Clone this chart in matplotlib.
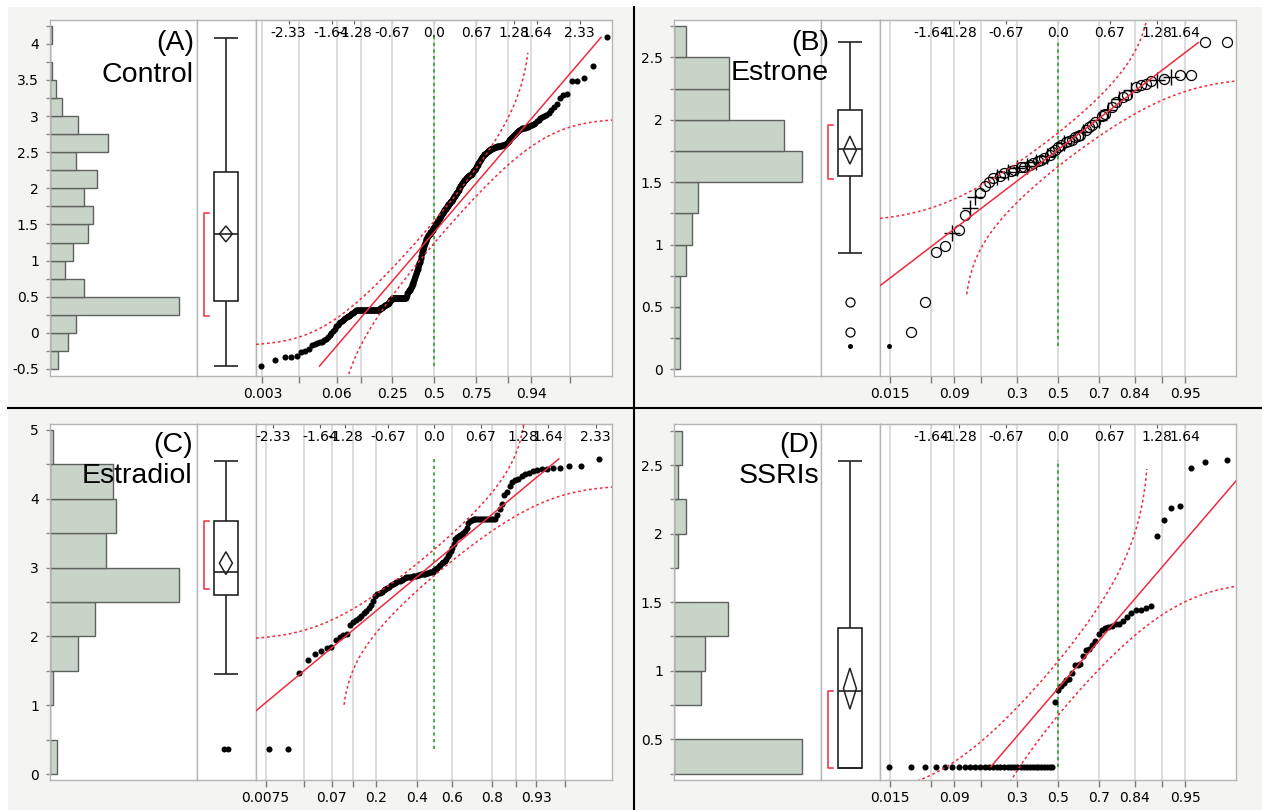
import numpy as np
import matplotlib
matplotlib.use("Agg")
import matplotlib.pyplot as plt
from matplotlib.patches import Rectangle, Polygon
from matplotlib.lines import Line2D
from matplotlib.transforms import blended_transform_factory
from statistics import NormalDist

# ---------------------------------------------------------------- data
panel_letters = ["(A)", "(B)", "(C)", "(D)"]
panel_names = ["Control", "Estrone", "Estradiol", "SSRIs"]

# histograms (bin start, bin width, counts)
hist_A_start, hist_A_width = -0.5, 0.25
hist_A_counts = [5, 12, 17, 84, 22, 10, 15, 25, 28, 22, 31, 17, 38, 18, 8, 4, 1, 0, 1]
hist_B_start, hist_B_width = 0.0, 0.25
hist_B_counts = [1, 1, 1, 2, 3, 4, 21, 18, 9, 9, 2]
hist_C_start, hist_C_width = 0.0, 0.5
hist_C_counts = [2, 0, 1, 8, 13, 37, 16, 19, 18, 1]
hist_D_start, hist_D_width = 0.25, 0.25
hist_D_counts = [33, 0, 7, 8, 14, 0, 1, 3, 1, 2]

# y axis tick labels of the histograms
yticks_A = [-0.5, 0, 0.5, 1, 1.5, 2, 2.5, 3, 3.5, 4]
yticks_B = [0, 0.5, 1, 1.5, 2, 2.5]
yticks_C = [0, 1, 2, 3, 4, 5]
yticks_D = [0.5, 1, 1.5, 2, 2.5]

# box plot summaries: whisker low, Q1, median, Q3, whisker high, mean, mean-diamond half height,
# shortest half (low, high)
box_A = dict(wlo=-0.46, q1=0.445, med=1.37, q3=2.225, whi=4.08, mean=1.37, mhalf=0.11, sh=(0.233, 1.663))
box_B = dict(wlo=0.93, q1=1.55, med=1.765, q3=2.08, whi=2.62, mean=1.757, mhalf=0.112, sh=(1.525, 1.96))
box_C = dict(wlo=1.46, q1=2.60, med=2.94, q3=3.68, whi=4.55, mean=3.065, mhalf=0.165, sh=(2.69, 3.68))
box_D = dict(wlo=0.293, q1=0.293, med=0.854, q3=1.313, whi=2.53, mean=0.87, mhalf=0.15, sh=(0.293, 0.854))
box_A_out, box_B_out, box_C_out, box_D_out = [], [0.54, 0.30, 0.19], [0.37, 0.37], []
box_B_out_marker = ["o", "o", "."]

# sorted samples shown in the normal quantile plots
qq_A = ([-0.46, -0.38, -0.34, -0.34, -0.32, -0.26, -0.25, -0.23, -0.17, -0.16,
         -0.14, -0.13, -0.12, -0.10, -0.08, -0.06, -0.03, 0.00, 0.03, 0.06,
         0.09, 0.11, 0.13, 0.15, 0.17, 0.18, 0.19, 0.20, 0.22, 0.23,
         0.24, 0.25, 0.26, 0.27, 0.28, 0.29, 0.30]
        + [0.31] * 31
        + [0.33, 0.34, 0.34, 0.35, 0.36, 0.36, 0.37, 0.37, 0.38, 0.38, 0.39, 0.39, 0.40, 0.40,
           0.41, 0.42, 0.43, 0.44, 0.45, 0.46, 0.47, 0.48]
        + [0.48] * 27
        + [0.50, 0.53, 0.55,
           0.56, 0.57, 0.58, 0.59, 0.60, 0.61, 0.62, 0.64,
           0.65, 0.67, 0.68, 0.70, 0.71, 0.73,
           0.75, 0.77, 0.79, 0.81, 0.83, 0.85, 0.87,
           0.89, 0.91, 0.93, 0.95, 0.97, 0.98, 1.00,
           1.03, 1.07, 1.10,
           1.12, 1.14, 1.16, 1.18, 1.20, 1.22,
           1.24, 1.25, 1.27, 1.28, 1.30, 1.31, 1.33,
           1.34, 1.35, 1.35, 1.36, 1.37, 1.38, 1.39, 1.39, 1.40, 1.41, 1.42,
           1.43, 1.44, 1.45, 1.46, 1.47, 1.48, 1.49, 1.50, 1.51, 1.52, 1.53, 1.54,
           1.55, 1.56, 1.57, 1.58, 1.59, 1.60, 1.61, 1.62, 1.63, 1.64, 1.65,
           1.66, 1.67, 1.68, 1.69, 1.70, 1.71, 1.71, 1.72, 1.73, 1.74, 1.75,
           1.76, 1.77, 1.78, 1.79, 1.79, 1.80, 1.81, 1.82, 1.82, 1.83, 1.84,
           1.85, 1.86, 1.87, 1.88, 1.89, 1.90, 1.91, 1.92, 1.93, 1.94, 1.95,
           1.96, 1.97, 1.98, 2.00, 2.01, 2.02, 2.03, 2.04, 2.05, 2.06, 2.07,
           2.08, 2.09, 2.10, 2.11, 2.12, 2.12, 2.13, 2.14, 2.15, 2.16,
           2.16, 2.17, 2.17, 2.18, 2.18, 2.19, 2.19, 2.20, 2.20, 2.21,
           2.22, 2.24, 2.25, 2.26, 2.27, 2.28, 2.29, 2.31, 2.32,
           2.33, 2.35, 2.36, 2.38, 2.39, 2.40, 2.41, 2.43, 2.44,
           2.45, 2.46, 2.47, 2.48, 2.48, 2.49, 2.50, 2.51,
           2.52, 2.52, 2.53, 2.53, 2.54, 2.54, 2.55, 2.56,
           2.56, 2.56, 2.57, 2.57, 2.57, 2.57, 2.58, 2.58, 2.58,
           2.59, 2.59, 2.59, 2.60, 2.60, 2.60, 2.60,
           2.61, 2.62, 2.63, 2.64, 2.66, 2.67,
           2.68, 2.70, 2.71, 2.73, 2.74,
           2.75, 2.77, 2.78, 2.80, 2.81, 2.82, 2.83,
           2.83, 2.84, 2.84, 2.85, 2.85,
           2.86, 2.87, 2.88, 2.89,
           2.91, 2.93, 2.95, 2.97,
           2.99, 3.00, 3.02, 3.04,
           3.08, 3.12, 3.17, 3.25, 3.29, 3.31, 3.49, 3.49, 3.53, 3.69, 4.09])

qq_B = [0.19, 0.30, 0.54, 0.94, 0.99, 1.09, 1.12, 1.24, 1.29, 1.38,
        1.41, 1.47, 1.50, 1.53, 1.54, 1.55, 1.57, 1.58, 1.59, 1.60,
        1.61, 1.62, 1.62, 1.63, 1.64, 1.65, 1.66, 1.67, 1.68, 1.69,
        1.71, 1.72, 1.74, 1.76, 1.78, 1.80, 1.81, 1.82, 1.83, 1.84,
        1.86, 1.87, 1.88, 1.90, 1.92, 1.94, 1.96, 1.98, 2.00, 2.03,
        2.05, 2.08, 2.10, 2.14, 2.17, 2.18, 2.20, 2.24, 2.26, 2.28,
        2.29, 2.31, 2.32, 2.33, 2.34, 2.36, 2.36, 2.62, 2.62]
qq_B_cross_ranks = [6, 9, 10, 15, 18, 21, 24, 27, 31, 37, 44, 49, 52, 55, 58, 63, 65]
qq_B_dot_ranks = [1]

qq_C = [0.37, 0.37, 1.47, 1.66, 1.74, 1.79, 1.83, 1.84, 1.95, 1.99,
        2.02, 2.04, 2.16, 2.21, 2.24, 2.27, 2.30, 2.34, 2.37, 2.42,
        2.46, 2.52, 2.58, 2.61, 2.63, 2.65, 2.67, 2.69, 2.71, 2.72,
        2.74, 2.76, 2.77, 2.79, 2.80, 2.81, 2.82, 2.84, 2.85, 2.86,
        2.86, 2.87, 2.87, 2.88, 2.88, 2.88, 2.89, 2.89, 2.90, 2.90,
        2.91, 2.91, 2.92, 2.92, 2.93, 2.93, 2.94,
        2.96, 2.98, 3.00, 3.02, 3.04, 3.06, 3.08, 3.10, 3.13, 3.17, 3.20, 3.24, 3.28,
        3.34, 3.41, 3.45, 3.46, 3.47, 3.49, 3.50, 3.53, 3.58, 3.65, 3.67, 3.69] \
    + [3.70] * 12 \
    + [3.77, 3.85, 3.92, 4.05, 4.10, 4.18, 4.24, 4.27, 4.29, 4.33, 4.36,
       4.38, 4.40, 4.42, 4.43, 4.44, 4.45, 4.45, 4.47, 4.48, 4.58]

qq_D = [0.30] * 33 + [0.77, 0.86, 0.89, 0.91, 0.93, 0.94, 0.98,
                      1.04, 1.04, 1.05, 1.11, 1.15, 1.16, 1.19, 1.22,
                      1.27, 1.30, 1.31, 1.32, 1.33, 1.34, 1.34, 1.36, 1.39, 1.42,
                      1.44, 1.44, 1.46, 1.47, 1.98, 2.10, 2.19, 2.20, 2.48, 2.52, 2.54]

# fitted normal line (mean, sd) and confidence band half-width (probability units)
fit_A, fit_B, fit_C, fit_D = (1.393, 1.01), (1.76, 0.474), (3.073, 0.838), (0.871, 0.658)
band_A, band_B, band_C, band_D = 0.06, 0.112, 0.09, 0.118

# normal quantile axes: top quantile labels, bottom probability grid
top_AC = ["-2.33", "-1.64", "-1.28", "-0.67", "0.0", "0.67", "1.28", "1.64", "2.33"]
top_BD = ["-1.64", "-1.28", "-0.67", "0.0", "0.67", "1.28", "1.64"]
prob_A = [0.003, 0.015, 0.06, 0.12, 0.25, 0.5, 0.75, 0.88, 0.94, 0.985]
prob_A_lab = ["0.003", "", "0.06", "", "0.25", "0.5", "0.75", "", "0.94", ""]
prob_BD = [0.015, 0.05, 0.09, 0.16, 0.3, 0.5, 0.7, 0.84, 0.91, 0.95]
prob_BD_lab = ["0.015", "", "0.09", "", "0.3", "0.5", "0.7", "0.84", "", "0.95"]
prob_C = [0.0075, 0.03, 0.07, 0.12, 0.2, 0.4, 0.6, 0.8, 0.88, 0.93, 0.97]
prob_C_lab = ["0.0075", "", "0.07", "", "0.2", "0.4", "0.6", "0.8", "", "0.93", ""]

# ---------------------------------------------------------------- layout / style
W, H = 1262, 810
ND = NormalDist()
plt.rcParams['font.family'] = ['DejaVu Sans']
TITLE_FONT = ['Liberation Sans', 'DejaVu Sans']
RED = '#ee2b3f'
GREEN = '#2aa02a'
SPINE = '#b5b5b5'
BAR_FC = '#c9d4c8'
BAR_EC = '#5e625e'

fig = plt.figure(figsize=(W / 100, H / 100), dpi=100)
fig.patch.set_facecolor('white')
fig.add_artist(Rectangle((8 / W, 0), 1 - 8 / W, 1 - 7 / H, transform=fig.transFigure,
                         facecolor='#f4f4f2', edgecolor='none', zorder=-10))
fig.add_artist(Line2D([633.5 / W] * 2, [0, 1 - 7 / H], transform=fig.transFigure,
                      color='black', lw=1.5, zorder=10))
fig.add_artist(Line2D([8 / W, 1], [1 - 408 / H] * 2, transform=fig.transFigure,
                      color='black', lw=1.5, zorder=10))


def ax_px(x0, x1, y0, y1):
    a = fig.add_axes([x0 / W, 1 - y1 / H, (x1 - x0) / W, (y1 - y0) / H])
    a.set_facecolor('white')
    for s in a.spines.values():
        s.set_color(SPINE)
        s.set_linewidth(1.0)
    return a


panels = [
    dict(x=(50, 197, 256, 612.3), y=(20, 376), ylim=(-0.597, 4.33), zl=2.85,
         hs=hist_A_start, hw=hist_A_width, hc=hist_A_counts, hx=96, yt=yticks_A, minor=0.25,
         box=box_A, bout=box_A_out, bmk=None, qq=qq_A, fit=fit_A, band=band_A,
         top=top_AC, prob=prob_A, plab=prob_A_lab,
         title_x=194, tb=(50, 82)),
    dict(x=(674, 821, 880, 1236), y=(20, 376), ylim=(-0.054, 2.80), zl=2.30,
         hs=hist_B_start, hw=hist_B_width, hc=hist_B_counts, hx=24.1, yt=yticks_B, minor=0.25,
         box=box_B, bout=box_B_out, bmk=box_B_out_marker, qq=qq_B, fit=fit_B, band=band_B,
         top=top_BD, prob=prob_BD, plab=prob_BD_lab,
         title_x=829, tb=(49.5, 80)),
    dict(x=(50, 197, 256, 612.3), y=(424, 780), ylim=(-0.087, 5.087), zl=2.57,
         hs=hist_C_start, hw=hist_C_width, hc=hist_C_counts, hx=42.3, yt=yticks_C, minor=0.5,
         box=box_C, bout=box_C_out, bmk=None, qq=qq_C, fit=fit_C, band=band_C,
         top=top_AC, prob=prob_C, plab=prob_C_lab,
         title_x=192.7, tb=(451.7, 482.7)),
    dict(x=(674, 821, 880, 1236), y=(424, 780), ylim=(0.203, 2.80), zl=2.30,
         hs=hist_D_start, hw=hist_D_width, hc=hist_D_counts, hx=38, yt=yticks_D, minor=0.25,
         box=box_D, bout=box_D_out, bmk=None, qq=qq_D, fit=fit_D, band=band_D,
         top=top_BD, prob=prob_BD, plab=prob_BD_lab,
         title_x=819.3, tb=(451.7, 482.7)),
]


def ncdf(z):
    return np.array([ND.cdf(float(v)) for v in z])


def nppf(p):
    return np.array([ND.inv_cdf(float(v)) for v in p])


for k, P in enumerate(panels):
    x0, x1, x2, x3 = P['x']
    y0, y1 = P['y']
    ylim = P['ylim']

    # ---------------- histogram
    ah = ax_px(x0, x1, y0, y1)
    counts = np.array(P['hc'], dtype=float)
    edges = P['hs'] + P['hw'] * np.arange(len(counts))
    ah.barh(edges + P['hw'] / 2, counts, height=P['hw'], left=0,
            color=BAR_FC, edgecolor=BAR_EC, linewidth=1.0, zorder=2)
    ah.set_xlim(0, P['hx'])
    ah.set_ylim(*ylim)
    ah.set_xticks([])
    ah.set_yticks(P['yt'])
    ah.set_yticklabels(['{:g}'.format(v) for v in P['yt']])
    mn = np.arange(P['yt'][0] - P['minor'], ylim[1], P['minor'])
    ah.set_yticks([v for v in mn if ylim[0] <= v <= ylim[1]], minor=True)
    ah.tick_params(axis='y', which='both', length=3, width=1, color='#8a8a8a',
                   labelsize=10, pad=5)

    # ---------------- box plot column
    ab = ax_px(x1, x2, y0, y1)
    ab.set_xlim(0, 1)
    ab.set_ylim(*ylim)
    ab.set_xticks([])
    ab.set_yticks([])
    b = P['box']
    cx, hwid = 0.49, 0.198
    ek = dict(color='#222222', lw=1.2, solid_capstyle='butt', zorder=3)
    ab.add_patch(Rectangle((cx - hwid, b['q1']), 2 * hwid, b['q3'] - b['q1'],
                           facecolor='white', edgecolor='#222222', lw=1.2, zorder=3))
    ab.plot([cx - hwid, cx + hwid], [b['med']] * 2, **ek)
    ab.plot([cx, cx], [b['q3'], b['whi']], **ek)
    ab.plot([cx, cx], [b['wlo'], b['q1']], **ek)
    ab.plot([cx - hwid, cx + hwid], [b['whi']] * 2, **ek)
    ab.plot([cx - hwid, cx + hwid], [b['wlo']] * 2, **ek)
    dw = 0.11
    ab.add_patch(Polygon([(cx, b['mean'] + b['mhalf']), (cx + dw, b['mean']),
                          (cx, b['mean'] - b['mhalf']), (cx - dw, b['mean'])],
                         closed=True, fill=False, edgecolor='#222222', lw=1.1, zorder=4))
    bx, tw = 0.125, 0.07
    ab.plot([bx + tw, bx, bx, bx + tw], [b['sh'][1], b['sh'][1], b['sh'][0], b['sh'][0]],
            color=RED, lw=1.1, zorder=3)
    for j, v in enumerate(P['bout']):
        mk = P['bmk'][j] if P['bmk'] else '.'
        if mk == 'o':
            ab.plot([cx], [v], 'o', mfc='none', mec='black', ms=6.5, mew=0.9, zorder=4)
        else:
            off = 0.0
            if len(P['bout']) == 2 and P['bmk'] is None:
                off = -0.03 if j == 0 else 0.03
            ab.plot([cx + off], [v], 'o', color='black', ms=3.6 if P['bmk'] else 4.3,
                    mew=0, zorder=4)

    # ---------------- normal quantile plot
    aq = ax_px(x2, x3, y0, y1)
    zl = P['zl']
    aq.set_xlim(-zl, zl)
    aq.set_ylim(*ylim)
    aq.set_yticks([])
    zgrid = [ND.inv_cdf(p) for p in P['prob']]
    for z in zgrid:
        aq.axvline(z, color='#dadada', lw=1.3, zorder=0.5)
    aq.set_xticks(zgrid)
    aq.set_xticklabels(P['plab'])
    aq.tick_params(axis='x', length=5, width=1, color='#7a7a7a', labelsize=10, pad=3)

    # top quantile axis
    ztop = [float(t) for t in P['top']]
    sec = aq.secondary_xaxis('top')
    sec.set_xticks(ztop)
    sec.set_xticklabels([''] * len(ztop))
    sec.tick_params(axis='x', direction='in', length=3, width=0.8, color='#555555')
    sec.spines['top'].set_color(SPINE)
    tr = blended_transform_factory(aq.transData, aq.transAxes)
    for z, lab in zip(ztop, P['top']):
        aq.text(z, 1 - 6.5 / (y1 - y0), lab, transform=tr, ha='center', va='top',
                fontsize=10, zorder=6)

    data = np.array(P['qq'], dtype=float)
    n = len(data)
    ranks = np.arange(1, n + 1)
    zq = nppf(ranks / (n + 1))

    a, s = P['fit']
    dmin, dmax = data.min(), data.max()
    aq.plot([0, 0], [dmin, dmax], color=GREEN, lw=1.2, ls=(0, (2, 2)), zorder=2)

    if k == 1:
        cross = np.isin(ranks, qq_B_cross_ranks)
        dots = np.isin(ranks, qq_B_dot_ranks)
        circ = ~(cross | dots)
        aq.plot(zq[circ], data[circ], 'o', mfc='none', mec='black', ms=7.2, mew=0.9, zorder=3)
        aq.plot(zq[cross], data[cross], '+', color='black', ms=11.5, mew=1.0, zorder=3)
        aq.plot(zq[dots], data[dots], 'o', color='black', ms=3.6, mew=0, zorder=3)
    else:
        aq.plot(zq, data, 'o', color='black', ms=4.4, mew=0, zorder=3)

    # fitted line over the data range
    aq.plot([(dmin - a) / s, (dmax - a) / s], [dmin, dmax], color=RED, lw=1.1, zorder=4)

    # confidence bands
    zg = np.linspace(-zl, zl, 600)
    pg = ncdf(zg)
    qu = pg + P['band']
    m = qu <= 0.994
    aq.plot(zg[m], a + s * nppf(qu[m]), color=RED, lw=1.1, ls=(0, (1.8, 1.8)), zorder=4)
    ql = pg - P['band']
    m = ql >= 0.006
    aq.plot(zg[m], a + s * nppf(ql[m]), color=RED, lw=1.1, ls=(0, (1.8, 1.8)), zorder=4)

    # panel titles
    fig.text(P['title_x'] / W, 1 - P['tb'][0] / H, panel_letters[k], ha='right', va='baseline',
             fontsize=20.5, family=TITLE_FONT, zorder=20)
    fig.text(P['title_x'] / W, 1 - P['tb'][1] / H, panel_names[k], ha='right', va='baseline',
             fontsize=20.5, family=TITLE_FONT, zorder=20)

fig.savefig('out.png', dpi=100, facecolor=fig.get_facecolor())
